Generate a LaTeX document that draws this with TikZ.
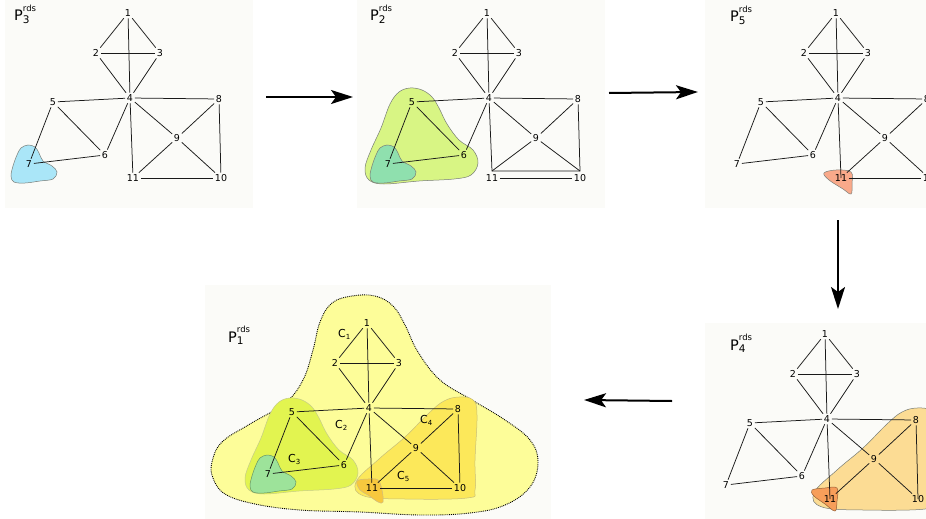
\documentclass[tikz,border=0pt]{standalone}
\usepackage{fontspec}
\setmainfont{DejaVu Sans}
\usetikzlibrary{arrows.meta}
\definecolor{panelbg}{RGB}{251,251,248}
\definecolor{blueblob}{RGB}{170,230,248}
\definecolor{limeblob}{RGB}{216,245,132}
\definecolor{mintblob}{RGB}{143,224,174}
\definecolor{salmonblob}{RGB}{249,169,138}
\definecolor{peachblob}{RGB}{252,220,148}
\definecolor{orangeblob}{RGB}{247,158,90}
\definecolor{paleyellow}{RGB}{253,253,153}
\definecolor{yellowgreen}{RGB}{226,244,80}
\definecolor{greenblob}{RGB}{157,227,154}
\definecolor{goldblob}{RGB}{252,232,90}
\definecolor{amberblob}{RGB}{247,200,62}
\definecolor{blobline}{RGB}{120,125,120}
\newcommand\rdsnodes[1]{%
  \foreach \n/\px/\py in {1/128/13,2/96/53,3/160/53,4/130/98,5/53/102,6/105/155,7/29/164,8/219/99,9/177/138,10/221/178,11/133/178}
    {\node[vtx] (#1\n) at (\px,\py) {\n};}}
\newcommand\commonedges{1/2,1/3,1/4,2/3,2/4,3/4,4/5,4/6,4/8,4/9,5/6,5/7,6/7,8/9}
\newcommand\rdsedges[2]{\edef\myedgelist{#2}\foreach \u/\v in \myedgelist {\draw[edge] (#1\u) -- (#1\v);}}
\newcommand\plab[1]{{\fontsize{14.5}{14.5}\selectfont P}\rlap{\raisebox{9.5pt}{\fontsize{8.5}{8.5}\selectfont rds}}\raisebox{-2.5pt}{\fontsize{10.5}{10.5}\selectfont #1}}
\newcommand\clab[1]{{\fontsize{11}{11}\selectfont C}\raisebox{-2.5pt}{\fontsize{7}{7}\selectfont #1}}
\newcommand\smallblob{plot[smooth cycle,tension=0.6] coordinates {(11,176) (13,166) (17,155) (21,148) (28,145) (35,147) (39,153) (43,161) (52,166) (57,172) (53,179) (40,181) (25,183) (14,182)}}
\newcommand\triblob{plot[smooth cycle,tension=0.6] coordinates {(40,92) (51,88) (63,90) (73,97) (80,108) (88,124) (100,140) (114,150) (119,163) (112,175) (95,179) (60,181) (25,184) (10,180) (6,168) (12,150) (22,128) (31,104)}}
\newcommand\longblob{plot[smooth cycle,tension=0.65] coordinates {(117,172) (140,149) (166,127) (190,103) (205,91) (220,87) (234,90) (238,105) (236,150) (236,180) (228,188) (166,189) (125,186)}}
\begin{document}
\begin{tikzpicture}[x=1pt,y=-1pt,
  vtx/.style={inner sep=1.6pt, font=\fontsize{9.5}{9.5}\selectfont},
  edge/.style={line width=0.75pt, draw=black!90},
  blob/.style={draw=blobline, line width=0.5pt},
  bigarrow/.style={line width=2pt, -{Stealth[length=22pt,width=14pt,inset=5pt]}},
  lab/.style={anchor=base west, inner sep=0pt}]
\useasboundingbox (0,0) rectangle (926,519);
% panel backgrounds
\fill[panelbg] (5,0) rectangle (253,208);
\fill[panelbg] (357,0) rectangle (605,208);
\fill[panelbg] (705,0) rectangle (926,208);
\fill[panelbg] (705,323) rectangle (926,519);
\fill[panelbg] (205,285) rectangle (551,519);

% ---- P3 ----
\begin{scope}
  \fill[blueblob, blob] \smallblob;
  \rdsnodes{a}
  \rdsedges{a}{\commonedges,4/11,8/10,9/10,9/11,11/10}
  \node[lab] (pa) at (14,21) {\plab{3}};
\end{scope}

% ---- P2 ----
\begin{scope}[shift={(359,0)}]
  \fill[limeblob, blob] \triblob;
  \fill[mintblob, blob] \smallblob;
  \rdsnodes{b}
  \coordinate (bc11) at (133,171);
  \coordinate (bc10) at (221,171);
  \rdsedges{b}{\commonedges,11/10}
  \draw[edge] (b4) -- (bc11) -- (bc10) -- (b8);
  \draw[edge] (b9) -- (bc11);
  \draw[edge] (b9) -- (bc10);
  \node[lab] (pb) at (11,21) {\plab{2}};
\end{scope}

% ---- P5 ----
\begin{scope}
  \clip (705,0) rectangle (926,208);
  \begin{scope}[shift={(708,0)}]
    \fill[salmonblob, blob] plot[smooth cycle,tension=0.6] coordinates {(116,173) (128,170) (143,172) (144,184) (143,194) (135,189) (121,180)};
    \rdsnodes{e}
    \rdsedges{e}{\commonedges,8/10,9/10,9/11,11/10}
    \draw[edge] (e4) -- (e11.center);
    \node[lab] (pe) at (22,22) {\plab{5}};
  \end{scope}
\end{scope}

% ---- P4 ----
\begin{scope}
  \clip (705,323) rectangle (926,519);
  \begin{scope}[shift={(697,321)}]
    \fill[peachblob, blob] \longblob;
    \fill[orangeblob, blob, draw=orangeblob!60!black] plot[smooth cycle,tension=0.6] coordinates {(115,169) (128,167) (140,167) (140,180) (138,190) (128,183) (117,175)};
    \rdsnodes{d}
    \rdsedges{d}{\commonedges,9/10,9/11}
    \draw[edge] (d4) -- (d11.center);
    \draw[edge] (d8) -- (d10.center);
    \node[lab] (pd) at (33,29) {\plab{4}};
  \end{scope}
\end{scope}

% ---- P1 ----
\fill[paleyellow] plot[smooth cycle,tension=0.65] coordinates {(212,462) (222,442) (250,424) (285,403) (303,380) (313,350) (320,322) (332,303) (352,296) (375,296) (393,306) (405,325) (418,352) (440,380) (472,400) (505,420) (530,440) (538,462) (530,487) (505,505) (470,513) (420,515) (360,512) (300,510) (255,504) (225,494) (213,478)};
\draw[densely dotted, line width=0.9pt] plot[smooth cycle,tension=0.65] coordinates {(212,462) (222,442) (250,424) (285,403) (303,380) (313,350) (320,322) (332,303) (352,296) (375,296) (393,306) (405,325) (418,352) (440,380) (472,400) (505,420) (530,440) (538,462) (530,487) (505,505) (470,513) (420,515) (360,512) (300,510) (255,504) (225,494) (213,478)};
\begin{scope}[shift={(239,310)}]
  \fill[yellowgreen, blob, draw=yellowgreen!70!black!60] \triblob;
  \fill[greenblob, blob, draw=green!30!black!60] \smallblob;
  \fill[goldblob, blob, draw=goldblob!70!black!70] \longblob;
  \fill[amberblob, blob, draw=amberblob!70!black!60] plot[smooth cycle,tension=0.6] coordinates {(118,171) (129,169) (139,170) (143,180) (144,192) (139,192) (129,185) (121,180)};
  \rdsnodes{c}
  \rdsedges{c}{\commonedges,4/11,8/10,9/10,9/11,11/10}
  \node[lab] (pc) at (-11,32) {\plab{1}};
  \node[lab] (c1lab) at (99,27) {\clab{1}};
  \node[lab] (c2lab) at (96,118) {\clab{2}};
  \node[lab] (c3lab) at (49,152) {\clab{3}};
  \node[lab] (c4lab) at (181,113) {\clab{4}};
  \node[lab] (c5lab) at (158,169) {\clab{5}};
\end{scope}

% ---- arrows ----
\coordinate (a1s) at (266,97);  \coordinate (a1e) at (353,97);
\coordinate (a2s) at (609,93);  \coordinate (a2e) at (698,92);
\coordinate (a3s) at (838,220); \coordinate (a3e) at (838,309);
\coordinate (a4s) at (672,401); \coordinate (a4e) at (584,400);
\draw[bigarrow] (a1s) -- (a1e);
\draw[bigarrow] (a2s) -- (a2e);
\draw[bigarrow] (a3s) -- (a3e);
\draw[bigarrow] (a4s) -- (a4e);
\end{tikzpicture}
\end{document}
